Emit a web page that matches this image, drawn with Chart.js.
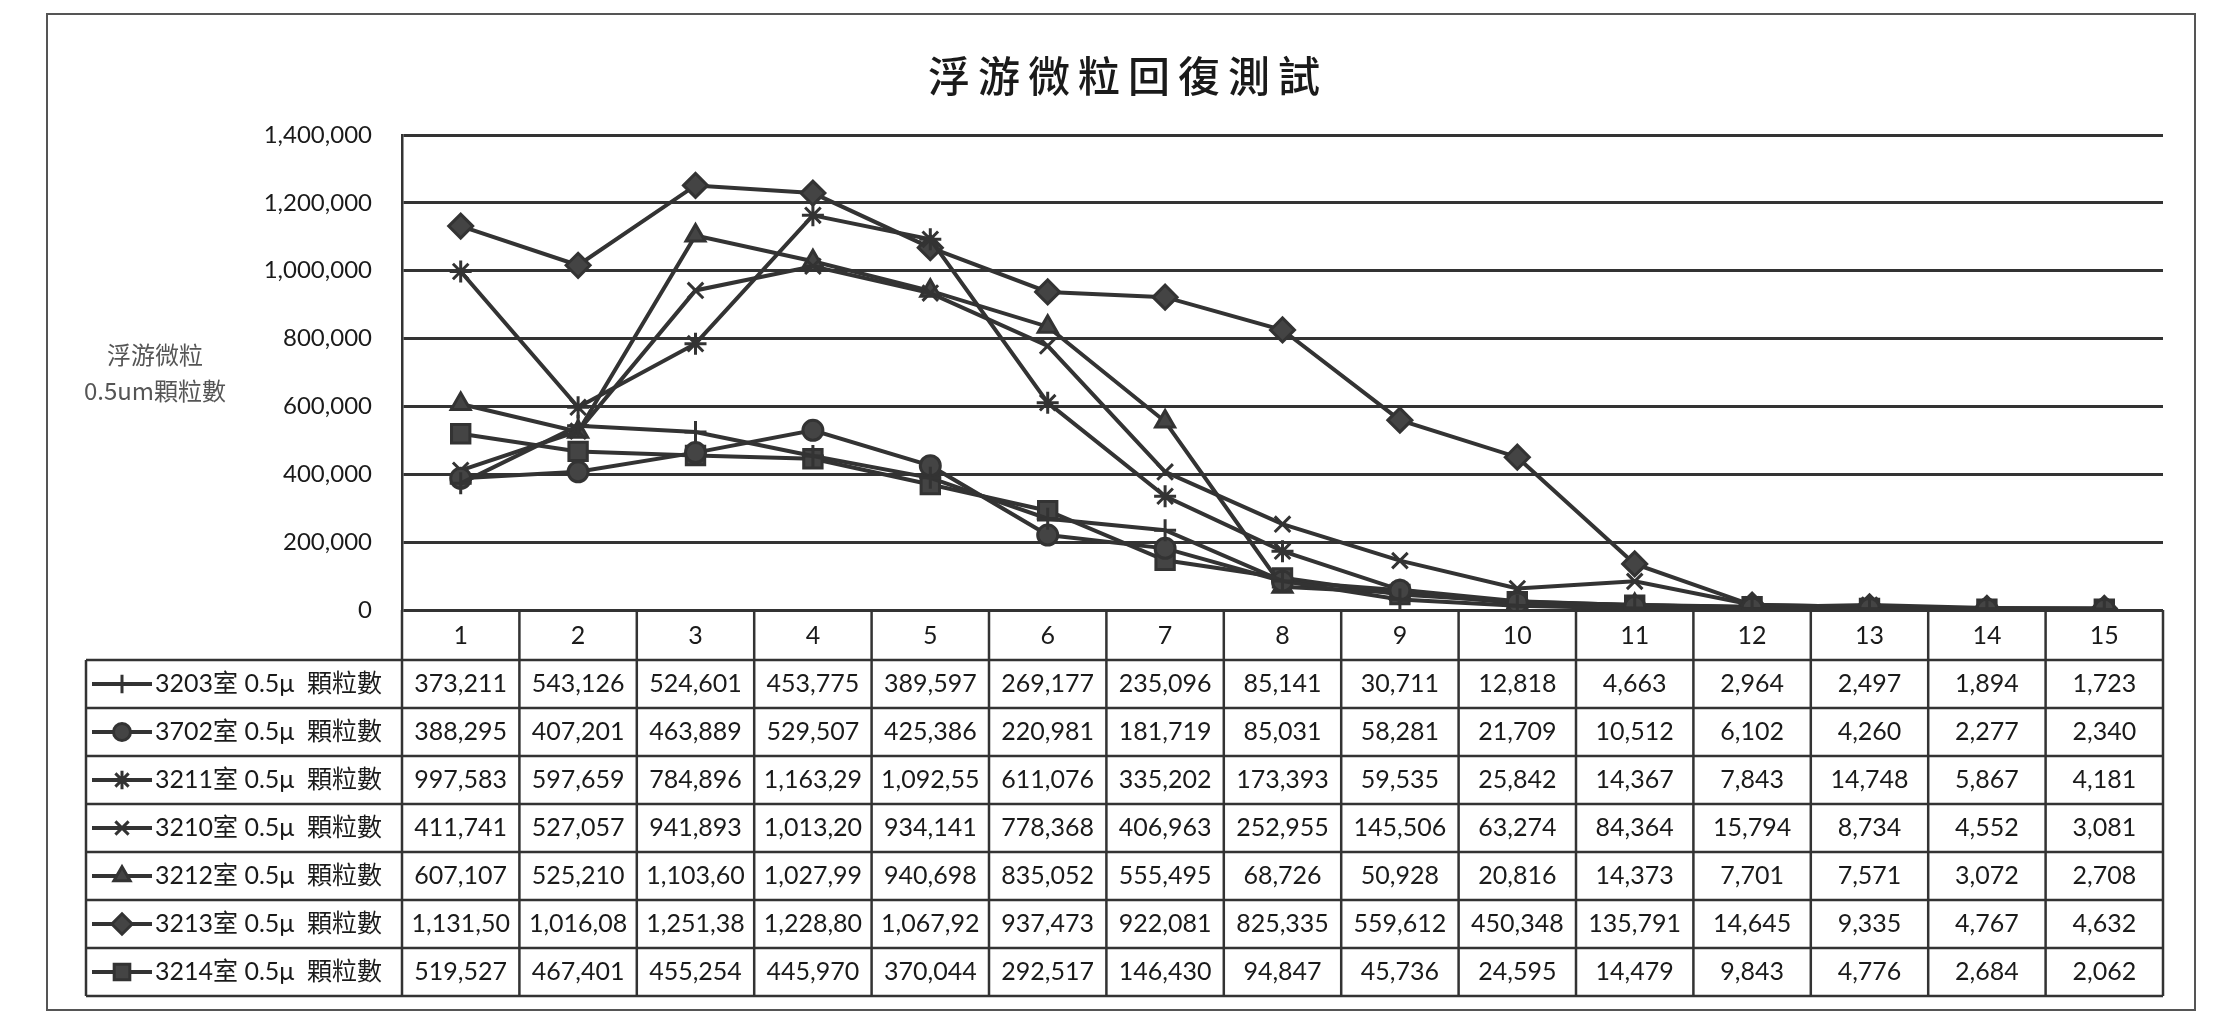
<!DOCTYPE html>
<html>
<head>
<meta charset="utf-8">
<title>浮游微粒回復測試</title>
<script src="https://cdn.jsdelivr.net/npm/chart.js@4/dist/chart.umd.min.js"></script>
<style>
  html, body { margin: 0; padding: 0; background: #fff; }
  canvas { display: block; }
</style>
</head>
<body>
<canvas id="chart" width="2225" height="1024"></canvas>
<script>
// categories (sample no.) and the rooms measured
const categories = ['1', '2', '3', '4', '5', '6', '7', '8', '9', '10', '11', '12', '13', '14', '15'];
const rooms = ['3203', '3702', '3211', '3210', '3212', '3213', '3214'];
const yTicks = [0, 200000, 400000, 600000, 800000, 1000000, 1200000, 1400000];

// 0.5um particle counts, one array per room (table cells cut at 8 chars were padded with 0)
const room3203 = [373211, 543126, 524601, 453775, 389597, 269177, 235096, 85141, 30711, 12818, 4663, 2964, 2497, 1894, 1723];
const room3702 = [388295, 407201, 463889, 529507, 425386, 220981, 181719, 85031, 58281, 21709, 10512, 6102, 4260, 2277, 2340];
const room3211 = [997583, 597659, 784896, 1163290, 1092550, 611076, 335202, 173393, 59535, 25842, 14367, 7843, 14748, 5867, 4181];
const room3210 = [411741, 527057, 941893, 1013200, 934141, 778368, 406963, 252955, 145506, 63274, 84364, 15794, 8734, 4552, 3081];
const room3212 = [607107, 525210, 1103600, 1027990, 940698, 835052, 555495, 68726, 50928, 20816, 14373, 7701, 7571, 3072, 2708];
const room3213 = [1131500, 1016080, 1251380, 1228800, 1067920, 937473, 922081, 825335, 559612, 450348, 135791, 14645, 9335, 4767, 4632];
const room3214 = [519527, 467401, 455254, 445970, 370044, 292517, 146430, 94847, 45736, 24595, 14479, 9843, 4776, 2684, 2062];

const series = [room3203, room3702, room3211, room3210, room3212, room3213, room3214];
const markers = ['cross', 'circle', 'star', 'crossRot', 'triangle', 'rectRot', 'rect'];
const markerSizes = [11, 10, 11, 11, 11, 12, 13];

const INK = '#333';
const NUM_FONT = 'Lato, "Noto Sans CJK TC", sans-serif';
const CJK_FONT = '"Noto Sans CJK TC", sans-serif';

// Excel's data table cuts long numbers off at the cell edge
const cellText = (v) => {
    const s = v.toLocaleString('en-US');
    return s.length > 8 ? s.slice(0, 8) : s;
};

const datasets = series.map((data, i) => ({
    label: rooms[i] + '室 0.5μ  顆粒數',
    data: data,
    borderColor: INK,
    backgroundColor: '#444',
    borderWidth: 4,
    tension: 0,
    pointStyle: markers[i],
    pointRadius: markerSizes[i],
    pointBorderWidth: 3,
    pointBorderColor: INK,
    pointBackgroundColor: '#444'
}));

// title, y axis caption, outer frame and the data table under the plot
const tablePlugin = {
    id: 'dataTable',
    afterDraw(chart) {
        const ctx = chart.ctx;
        const area = chart.chartArea;
        const xs = chart.scales.x;
        const half = (xs.getPixelForValue(1) - xs.getPixelForValue(0)) / 2;
        const tableLeft = 86;
        const headBottom = area.bottom + 50;
        const rowH = 48;
        const tableBottom = headBottom + rowH * series.length;

        ctx.save();

        // outer frame
        ctx.strokeStyle = '#555';
        ctx.lineWidth = 2;
        ctx.strokeRect(47, 14, 2148, 996);

        // title
        ctx.fillStyle = '#1a1a1a';
        ctx.font = '500 42px ' + CJK_FONT;
        ctx.textAlign = 'center';
        ctx.textBaseline = 'middle';
        ctx.letterSpacing = '8px';
        ctx.fillText('浮游微粒回復測試', 1128, 76);
        ctx.letterSpacing = '0px';

        // y axis caption
        ctx.fillStyle = '#555';
        ctx.font = '24px ' + CJK_FONT;
        ctx.fillText('浮游微粒', 155, 355);
        ctx.fillText('0.5um顆粒數', 155, 391);

        // table grid
        ctx.strokeStyle = '#333';
        ctx.lineWidth = 2.5;
        ctx.beginPath();
        for (let r = 0; r <= series.length; r++) {
            const y = headBottom + r * rowH;
            ctx.moveTo(tableLeft, y);
            ctx.lineTo(area.right, y);
        }
        ctx.moveTo(tableLeft, headBottom);
        ctx.lineTo(tableLeft, tableBottom);
        for (let c = 0; c <= categories.length; c++) {
            const x = c < categories.length ? xs.getPixelForValue(c) - half : xs.getPixelForValue(c - 1) + half;
            ctx.moveTo(x, area.bottom);
            ctx.lineTo(x, tableBottom);
        }
        ctx.stroke();

        // rows: legend key, label, values
        series.forEach((data, r) => {
            const cy = headBottom + r * rowH + rowH / 2;
            const ds = datasets[r];

            ctx.strokeStyle = INK;
            ctx.lineWidth = 4;
            ctx.beginPath();
            ctx.moveTo(92, cy);
            ctx.lineTo(152, cy);
            ctx.stroke();
            if (Chart.helpers && Chart.helpers.drawPoint) {
                ctx.fillStyle = ds.pointBackgroundColor;
                ctx.strokeStyle = INK;
                ctx.lineWidth = 3;
                Chart.helpers.drawPoint(ctx, { pointStyle: ds.pointStyle, radius: ds.pointRadius * 0.85, rotation: 0, borderWidth: 3 }, 122, cy);
            }

            ctx.fillStyle = '#1a1a1a';
            ctx.font = '25px ' + NUM_FONT;
            ctx.textAlign = 'left';
            ctx.fillText(ds.label, 155, cy);

            ctx.textAlign = 'center';
            data.forEach((v, c) => {
                ctx.fillText(cellText(v), xs.getPixelForValue(c), cy);
            });
        });

        ctx.restore();
    }
};

new Chart(document.getElementById('chart'), {
    type: 'line',
    data: { labels: categories, datasets: datasets },
    options: {
        responsive: false,
        devicePixelRatio: 1,
        animation: false,
        layout: { padding: { top: 135, right: 62, bottom: 364, left: 0 } },
        plugins: {
            legend: { display: false },
            title: { display: false },
            tooltip: { enabled: false }
        },
        scales: {
            x: {
                offset: true,
                afterFit: (scale) => { scale.height = 50; },
                grid: { display: false, drawTicks: false },
                border: { display: false },
                ticks: { padding: 11, color: '#1a1a1a', font: { family: NUM_FONT, size: 25 } }
            },
            y: {
                min: yTicks[0],
                max: yTicks[yTicks.length - 1],
                afterFit: (scale) => { scale.width = 402; },
                afterBuildTicks: (scale) => { scale.ticks = yTicks.map((v) => ({ value: v })); },
                grid: { color: INK, lineWidth: 3, drawTicks: false },
                border: { display: true, color: '#333', width: 2.5 },
                ticks: {
                    padding: 30,
                    color: '#1a1a1a',
                    font: { family: NUM_FONT, size: 24 },
                    callback: (v) => v.toLocaleString('en-US')
                }
            }
        }
    },
    plugins: [tablePlugin]
});
</script>
</body>
</html>
